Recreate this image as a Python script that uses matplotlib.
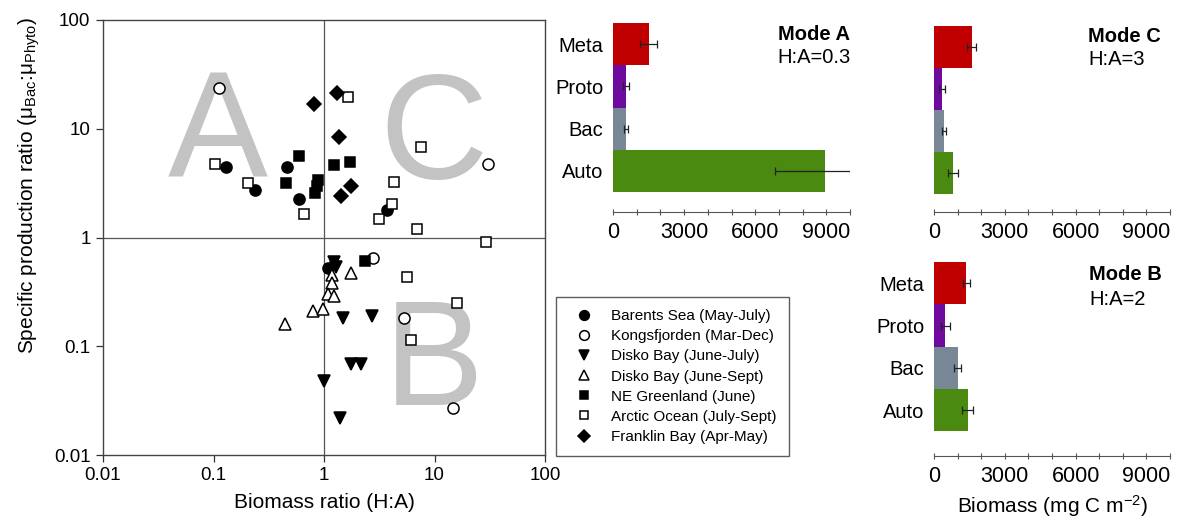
import matplotlib
matplotlib.use("Agg")
import matplotlib.pyplot as plt
from matplotlib.lines import Line2D

plt.rcParams["font.family"] = ["Liberation Sans", "DejaVu Sans"]
plt.rcParams["mathtext.fontset"] = "custom"
plt.rcParams["mathtext.rm"] = "Liberation Sans"
plt.rcParams["mathtext.it"] = "Liberation Sans:italic"

# scatter data (biomass ratio H:A, specific production ratio)
barents_x = [0.13, 0.237, 0.46, 0.59, 3.69, 1.09]
barents_y = [4.45, 2.73, 4.45, 2.26, 1.79, 0.52]
kongs_x = [0.113, 30.7, 2.76, 5.3, 14.6]
kongs_y = [23.7, 4.71, 0.644, 0.181, 0.0269]
disko_jj_x = [1.0, 1.4, 1.5, 2.7, 1.74, 2.16, 1.24, 1.28]
disko_jj_y = [0.048, 0.0217, 0.181, 0.19, 0.068, 0.068, 0.60, 0.54]
disko_js_x = [0.44, 0.80, 0.97, 1.17, 1.17, 1.09, 1.23, 1.74]
disko_js_y = [0.16, 0.211, 0.22, 0.45, 0.38, 0.30, 0.29, 0.47]
greenland_x = [0.59, 0.45, 0.88, 0.86, 0.83, 1.23, 1.72, 2.35]
greenland_y = [5.6, 3.19, 3.38, 2.98, 2.55, 4.64, 4.98, 0.61]
arctic_x = [0.103, 0.204, 0.66, 1.66, 7.55, 4.3, 4.1, 3.13, 7.0, 29.1, 5.6, 16.0, 6.1]
arctic_y = [4.74, 3.15, 1.64, 19.5, 6.75, 3.22, 2.03, 1.48, 1.19, 0.90, 0.436, 0.248, 0.114]
franklin_x = [0.82, 1.30, 1.38, 1.74, 1.42]
franklin_y = [16.9, 21.5, 8.45, 2.98, 2.41]

series_labels = [
    "Barents Sea (May-July)",
    "Kongsfjorden (Mar-Dec)",
    "Disko Bay (June-July)",
    "Disko Bay (June-Sept)",
    "NE Greenland (June)",
    "Arctic Ocean (July-Sept)",
    "Franklin Bay (Apr-May)",
]

# bar data, bottom to top
groups = ["Auto", "Bac", "Proto", "Meta"]
mode_a = [8950, 550, 560, 1500]
err_a = [2120, 90, 120, 340]
mode_b = [1420, 1000, 480, 1370]
err_b = [220, 160, 180, 160]
mode_c = [790, 440, 350, 1600]
err_c = [210, 80, 125, 200]

bar_colors = ["#4a8a10", "#788795", "#6f0a9e", "#c00000"]

W, H = 1177, 522
fig = plt.figure(figsize=(W / 100, H / 100), dpi=100)


def px_axes(left, top, right, bottom):
    return fig.add_axes([left / W, 1 - bottom / H, (right - left) / W, (bottom - top) / H])


# ---- scatter panel
ax = px_axes(103, 20, 545, 455)
ax.set_xscale("log")
ax.set_yscale("log")
ax.set_xlim(0.01, 100)
ax.set_ylim(0.01, 100)

ax.axvline(1, color="#555555", lw=0.9, zorder=1)
ax.axhline(1, color="#555555", lw=0.9, zorder=1)

# quadrant letters, placed by baseline
big = dict(color="#c3c3c3", fontsize=108, ha="center", va="baseline", zorder=0)
ax.text(0.109, 3.62, "A", **big)
ax.text(9.8, 3.45, "C", **big)
ax.text(9.9, 0.0288, "B", **big)

ms = 8
styles = [
    (barents_x, barents_y, "o", "black"),
    (kongs_x, kongs_y, "o", "white"),
    (disko_jj_x, disko_jj_y, "v", "black"),
    (disko_js_x, disko_js_y, "^", "white"),
    (greenland_x, greenland_y, "s", "black"),
    (arctic_x, arctic_y, "s", "white"),
    (franklin_x, franklin_y, "D", "black"),
]

handles = []
for (xs, ys, m, fc), lab in zip(styles, series_labels):
    size = ms - 1 if m in ("s", "D") else ms
    ax.plot(xs, ys, ls="none", marker=m, ms=size, mfc=fc, mec="black", mew=1.1, zorder=3)
    handles.append(Line2D([], [], ls="none", marker=m, ms=size - 1, mfc=fc, mec="black",
                          mew=1.1, label=lab))

ax.set_xticks([0.01, 0.1, 1, 10, 100])
ax.set_xticklabels(["0.01", "0.1", "1", "10", "100"])
ax.set_yticks([0.01, 0.1, 1, 10, 100])
ax.set_yticklabels(["0.01", "0.1", "1", "10", "100"])
ax.minorticks_off()
ax.tick_params(direction="out", length=5, width=0.9, labelsize=13.5, color="#333333", pad=4)
for s in ax.spines.values():
    s.set_color("#444444")
    s.set_linewidth(1.0)

ax.set_xlabel("Biomass ratio (H:A)", fontsize=15, labelpad=6)
ax.set_ylabel(r"Specific production ratio (μ$_{\mathrm{Bac}}$:μ$_{\mathrm{Phyto}}$)",
              fontsize=15)
ax.yaxis.set_label_coords(-0.138, 0.62)

leg = fig.legend(handles=handles, loc="upper left", bbox_to_anchor=(556 / W, 1 - 297 / H),
                 frameon=True, fancybox=False, edgecolor="#333333", fontsize=11,
                 borderpad=0.8, handlelength=2.0, handletextpad=0.8, labelspacing=0.4,
                 borderaxespad=0)
leg.get_frame().set_linewidth(1.0)


# ---- bar panels
def bar_panel(rect, vals, errs, ylim, title, ratio, show_labels, text_x, text_y):
    bx = px_axes(*rect)
    pos = list(range(len(groups)))
    bx.barh(pos, vals, height=1.0, color=bar_colors, edgecolor="none", zorder=2)
    bx.errorbar(vals, pos, xerr=errs, fmt="none", ecolor="#222222", elinewidth=0.9,
                capsize=3, capthick=0.9, zorder=3)
    bx.set_xlim(0, 10000)
    bx.set_ylim(*ylim)
    bx.set_xticks(range(0, 10001, 1000))
    bx.set_xticklabels(["0" if v == 0 else (str(v) if v % 3000 == 0 and v < 10000 else "")
                        for v in range(0, 10001, 1000)])
    bx.set_yticks(pos)
    if show_labels:
        bx.set_yticklabels(groups)
    else:
        bx.set_yticklabels([])
    for side in ("left", "top", "right"):
        bx.spines[side].set_visible(False)
    bx.spines["bottom"].set_color("#555555")
    bx.tick_params(axis="x", direction="inout", length=5, width=0.8, color="#555555",
                   labelsize=15.5, pad=5)
    bx.tick_params(axis="y", length=0, labelsize=14.5, pad=7)
    bx.text(text_x, text_y[0], title, transform=bx.transAxes, ha="left", va="top",
            fontsize=14.5, fontweight="bold")
    bx.text(text_x, text_y[1], ratio, transform=bx.transAxes, ha="left", va="top",
            fontsize=14.5)
    return bx


bar_panel((613, 23, 850, 212), mode_a, err_a, (-0.97, 3.5), "Mode A", "H:A=0.3", True,
          0.695, (0.99, 0.868))
bar_panel((934, 26, 1170, 212), mode_c, err_c, (-0.93, 3.5), "Mode C", "H:A=3", False,
          0.653, (0.995, 0.872))
bb = bar_panel((934, 262, 1170, 456), mode_b, err_b, (-1.08, 3.5), "Mode B", "H:A=2", True,
               0.658, (0.985, 0.855))
bb.set_xlabel(r"Biomass (mg C m$^{-2}$)", fontsize=15, labelpad=4)

fig.savefig("out.png", dpi=100)
